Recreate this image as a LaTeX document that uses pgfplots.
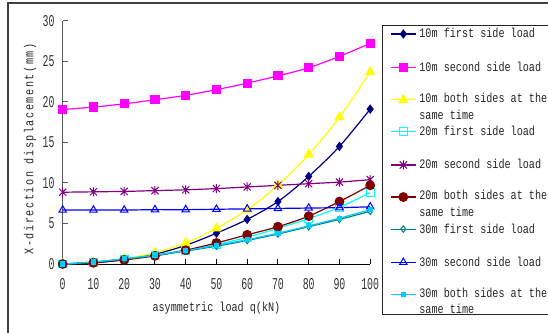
\documentclass[border=0pt]{standalone}
\usepackage{fontspec}
\setmainfont{Liberation Mono}[FakeStretch=0.78]
\newfontfamily\tickfont{Liberation Mono}[FakeStretch=0.6]
\newfontfamily\ylabfont{Liberation Mono}[FakeStretch=0.78,LetterSpace=12]
\usepackage{pgfplots}
\pgfplotsset{compat=1.18}
\definecolor{cNavy}{RGB}{0,0,128}
\definecolor{cMag}{RGB}{255,0,255}
\definecolor{cYel}{RGB}{255,255,0}
\definecolor{cCyan}{RGB}{0,255,255}
\definecolor{cPur}{RGB}{128,0,128}
\definecolor{cDred}{RGB}{128,0,0}
\definecolor{cTeal}{RGB}{0,128,128}
\definecolor{cBlue}{RGB}{0,0,255}
\definecolor{cSky}{RGB}{0,204,255}
\pgfdeclareplotmark{xstar}{%
  \pgfpathmoveto{\pgfqpoint{-.8\pgfplotmarksize}{-.8\pgfplotmarksize}}%
  \pgfpathlineto{\pgfqpoint{.8\pgfplotmarksize}{.8\pgfplotmarksize}}%
  \pgfpathmoveto{\pgfqpoint{-.8\pgfplotmarksize}{.8\pgfplotmarksize}}%
  \pgfpathlineto{\pgfqpoint{.8\pgfplotmarksize}{-.8\pgfplotmarksize}}%
  \pgfpathmoveto{\pgfqpoint{0pt}{-\pgfplotmarksize}}%
  \pgfpathlineto{\pgfqpoint{0pt}{\pgfplotmarksize}}%
  \pgfusepathqstroke}
\newcommand\ls{\rule[-3pt]{0pt}{10pt}}
\newcommand\two[2]{\ls\smash{\parbox[t]{150pt}{\baselineskip=16.5pt #1\\#2}}}
\begin{document}
\begin{tikzpicture}
\draw[line width=1.5pt, black!75] (8pt,329pt) rectangle (640pt,-40pt);
\draw[line width=0.8pt, black!85, fill=white] (382pt,307pt) rectangle (620pt,17.7pt);
\begin{axis}[
  at={(62.7pt,68pt)}, anchor=south west,
  scale only axis, width=307.5pt, height=243.3pt,
  xmin=0, xmax=100, ymin=0, ymax=30,
  xtick={0,10,...,100}, ytick={0,5,...,30},
  axis x line=bottom, axis y line=left,
  x axis line style={-, black, line width=1pt},
  y axis line style={-, black!65, line width=1pt},
  tick align=inside, major tick length=5pt,
  x tick style={black, line width=1pt},
  y tick style={black!65, line width=1pt},
  /pgf/number format/assume math mode=true,
  ticklabel style={font={\tickfont\fontsize{16.5}{18}\selectfont}, text=black!80, inner sep=0pt},
  yticklabel style={anchor=east, xshift=-8pt},
  xticklabel style={anchor=north, yshift=-14pt},
  xlabel={asymmetric load q(kN)},
  ylabel={\ylabfont X-direction displacement(mm)},
  label style={font={\fontsize{13}{15}\selectfont}, text=black!85},
  xlabel style={at={(axis description cs:0.5,-0.181)}, anchor=center},
  ylabel style={at={(axis description cs:-0.106,0.473)}, anchor=center},
  clip=false,
  every axis plot/.append style={line width=1.2pt, smooth, tension=0.5},
  legend style={at={(axis description cs:1.0384,0.9823)}, anchor=north west,
     draw=none, fill=none,
     inner xsep=8pt, inner ysep=3.3pt, row sep=22.3pt, column sep=3pt,
     font={\fontsize{13}{16.5}\selectfont}, text=black!85,
     nodes={inner sep=0pt}},
  legend cell align=left,
  legend image code/.code={\draw[mark repeat=2,mark phase=2,#1] plot coordinates {(0pt,0pt) (12.5pt,0pt) (25pt,0pt)};},
]
\addplot[cNavy, mark=diamond*, mark size=3.8pt, mark options={solid, fill=cNavy}] coordinates {
(0,0) (10,0.15) (20,0.55) (30,1.2) (40,2.3) (50,3.8) (60,5.5) (70,7.7) (80,10.8) (90,14.5) (100,19.1)};
\addlegendentry{\ls 10m first side load}
\addplot[cMag, mark=square*, mark size=4pt, mark options={solid, fill=cMag}] coordinates {
(0,19.05) (10,19.35) (20,19.75) (30,20.25) (40,20.8) (50,21.5) (60,22.3) (70,23.2) (80,24.2) (90,25.6) (100,27.2)};
\addlegendentry{\ls 10m second side load}
\addplot[cYel, mark=triangle*, mark size=4.8pt, mark options={solid, fill=cYel}] coordinates {
(0,0) (10,0.2) (20,0.65) (30,1.4) (40,2.6) (50,4.4) (60,6.7) (70,9.7) (80,13.5) (90,18.1) (100,23.7)};
\addlegendentry{\two{10m both sides at the}{same time}}
\addplot[cCyan, mark=square, mark size=3.8pt, mark options={solid, line width=1pt}] coordinates {
(0,0) (10,0.2) (20,0.6) (30,1.1) (40,1.7) (50,2.4) (60,3.3) (70,4.4) (80,5.6) (90,7.0) (100,8.8)};
\addlegendentry{\ls 20m first side load}
\addplot[cPur, mark=xstar, mark size=4.5pt, mark options={solid, line width=1pt}] coordinates {
(0,8.85) (10,8.9) (20,8.95) (30,9.05) (40,9.15) (50,9.3) (60,9.5) (70,9.7) (80,9.9) (90,10.1) (100,10.4)};
\addlegendentry{\ls 20m second side load}
\addplot[cDred, mark=*, mark size=4.3pt, mark options={solid, fill=cDred}] coordinates {
(0,0) (10,0.15) (20,0.5) (30,1.0) (40,1.7) (50,2.6) (60,3.6) (70,4.6) (80,5.9) (90,7.7) (100,9.7)};
\addlegendentry{\two{20m both sides at the}{same time}}
\addplot[cTeal, mark=diamond, mark size=3.3pt, mark options={solid, line width=1pt}] coordinates {
(0,0) (10,0.25) (20,0.6) (30,1.05) (40,1.6) (50,2.2) (60,2.9) (70,3.7) (80,4.6) (90,5.5) (100,6.5)};
\addlegendentry{\ls 30m first side load}
\addplot[cBlue, mark=triangle, mark size=4.3pt, mark options={solid, line width=1pt}] coordinates {
(0,6.65) (10,6.65) (20,6.65) (30,6.7) (40,6.7) (50,6.75) (60,6.8) (70,6.85) (80,6.9) (90,6.95) (100,7.05)};
\addlegendentry{\ls 30m second side load}
\addplot[cSky, mark=square*, mark size=2pt, mark options={solid, fill=cSky}] coordinates {
(0,0) (10,0.25) (20,0.65) (30,1.1) (40,1.65) (50,2.3) (60,3.0) (70,3.8) (80,4.7) (90,5.65) (100,6.7)};
\addlegendentry{\two{30m both sides at the}{same time}}
\end{axis}
\pgfresetboundingbox
\useasboundingbox (0,0) rectangle (548pt,332pt);
\end{tikzpicture}
\end{document}
